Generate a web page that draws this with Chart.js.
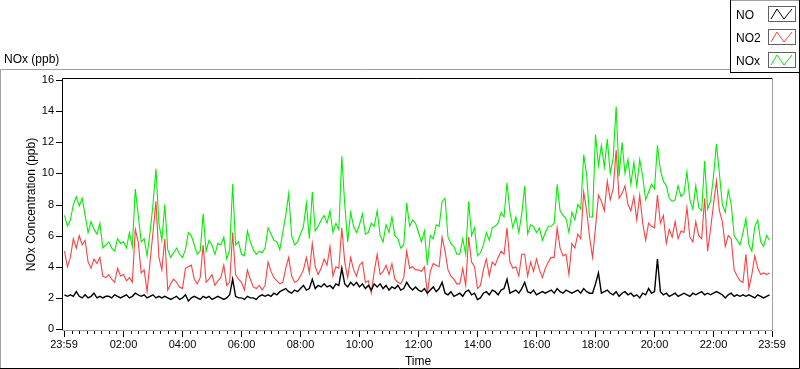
<!DOCTYPE html>
<html><head><meta charset="utf-8">
<script src="https://cdn.jsdelivr.net/npm/chart.js@4"></script>
<style>
html,body{margin:0;padding:0;background:#fff;overflow:hidden;}
#wrap{position:relative;width:800px;height:369px;font-family:"Liberation Sans",Arial,sans-serif;}
canvas{position:absolute;left:0;top:0;}
#title{position:absolute;left:4px;top:52px;font-size:12px;line-height:14px;color:#000;white-space:nowrap;}
#legend{position:absolute;left:730px;top:0;}
</style></head>
<body><div id="wrap"><canvas id="c" width="800" height="369"></canvas>
<div id="title">NOx (ppb)</div>
<svg id="legend" width="70" height="73" xmlns="http://www.w3.org/2000/svg"></svg>
</div>
<script>
// ---- data (one sample every 6 minutes) ----
const seriesNames = ['NO', 'NO2', 'NOx'];
const sampleStepMinutes = 6;
const NO = [
2.2,2.1,2.2,2.1,2.4,2.1,2.0,2.2,2.0,2.1,2.3,2.0,2.1,2.0,2.1,2.1,2.0,2.2,2.1,2.0,2.1,2.2,2.0,2.1,2.3,2.2,2.1,2.2,2.0,2.1,2.2,2.0,2.1,2.0,2.1,2.0,1.9,2.0,2.1,1.9,2.0,2.2,1.8,2.0,2.1,2.0,1.9,2.1,2.0,2.1,1.9,2.0,2.1,2.0,1.9,2.0,2.2,3.2,2.1,2.0,
2.0,1.9,2.1,2.0,2.0,1.9,2.1,2.2,2.1,2.2,2.1,2.3,2.2,2.4,2.5,2.6,2.4,2.3,2.5,2.4,2.6,2.8,2.5,2.6,3.2,2.6,2.8,2.7,2.9,2.7,2.8,2.6,2.9,2.8,3.9,2.9,2.7,3.0,2.8,3.0,2.7,2.9,2.6,2.8,2.5,2.9,2.7,2.9,2.6,2.8,2.5,2.7,2.6,2.8,2.5,2.6,3.0,2.7,2.5,2.7,
2.5,2.4,2.6,2.3,2.5,2.7,2.4,2.6,3.0,2.3,2.2,2.4,2.1,2.2,2.3,2.1,2.4,2.5,2.2,2.3,1.9,2.0,2.3,2.4,2.2,2.5,2.4,2.2,2.5,2.6,3.2,2.3,2.4,2.5,2.3,2.6,3.0,2.4,2.3,2.5,2.2,2.3,2.4,2.3,2.4,2.5,2.3,2.6,2.4,2.3,2.5,2.4,2.3,2.4,2.5,2.3,2.6,2.4,2.3,
2.3,2.9,3.6,2.3,2.4,2.5,2.3,2.2,2.4,2.1,2.3,2.4,2.2,2.3,2.1,2.2,2.0,2.3,2.2,2.6,2.3,2.4,4.5,2.4,2.2,2.3,2.1,2.2,2.3,2.1,2.2,2.3,2.2,2.1,2.3,2.2,2.3,2.4,2.2,2.3,2.2,2.3,2.4,2.3,2.2,2.0,2.2,2.3,2.1,2.2,2.1,2.2,2.1,2.2,2.1,2.0,2.2,2.1,2.0,2.1,2.2
];
const NO2 = [
5.0,4.0,4.6,5.8,5.2,6.0,5.4,5.7,4.3,3.9,4.5,4.2,4.6,3.4,3.3,3.5,3.2,3.0,3.9,3.4,3.5,3.1,3.3,3.0,6.4,5.6,3.6,3.8,2.4,4.3,6.2,8.2,4.6,3.8,5.8,2.5,2.9,3.2,3.0,2.7,2.6,3.9,4.0,4.1,3.2,2.9,3.3,5.4,3.0,3.2,3.5,2.8,3.1,3.3,4.1,2.8,3.0,6.2,3.5,3.2,
3.0,2.5,3.8,3.2,2.7,2.6,2.8,2.5,2.8,4.3,3.7,3.3,3.1,2.9,3.0,3.9,4.6,3.4,3.0,3.1,3.4,3.8,4.6,3.6,5.5,4.0,3.5,3.9,4.5,4.1,5.3,3.4,4.0,3.9,6.5,4.3,3.3,4.6,3.8,3.4,4.1,4.3,3.0,3.1,2.3,3.7,4.8,3.5,3.7,4.1,3.5,4.2,3.2,3.0,2.9,3.3,5.0,3.9,4.0,3.8,
3.8,3.7,4.0,2.3,3.7,4.2,4.1,4.0,5.9,5.0,3.8,3.4,3.2,2.9,2.9,3.9,2.8,5.9,4.3,4.0,2.6,2.8,3.8,4.5,3.4,4.3,4.1,4.6,5.0,4.8,6.5,4.3,3.9,4.0,3.4,4.8,4.8,3.4,4.3,3.7,4.5,3.8,3.3,3.9,4.3,4.6,4.6,6.5,5.2,4.7,4.8,3.5,5.5,5.2,6.1,5.8,8.8,7.6,5.9,
4.6,6.5,8.6,8.2,7.6,9.5,8.3,9.0,11.5,8.4,8.7,9.2,8.0,7.6,8.5,7.0,8.6,6.8,5.7,6.8,6.6,6.5,8.6,6.8,7.3,5.5,6.4,5.9,6.9,5.8,6.3,6.2,7.8,5.9,5.6,6.9,6.0,5.8,8.4,5.0,6.4,8.0,9.5,7.6,6.9,5.3,6.0,5.8,3.8,3.4,3.1,3.0,4.8,2.6,3.5,4.7,3.9,3.5,3.6,3.5,3.6
];
const NOx = [
7.3,6.6,7.0,8.0,8.5,7.9,8.4,7.3,6.2,6.9,6.4,6.1,6.8,5.2,5.4,5.6,5.2,5.0,5.8,5.5,5.6,5.2,6.2,5.3,9.0,7.3,5.6,5.8,4.7,6.2,8.0,10.3,6.8,5.7,8.0,5.1,4.6,4.9,5.2,4.8,4.6,5.1,6.2,6.0,5.4,4.8,5.0,7.4,5.0,5.7,5.4,4.8,5.5,5.4,5.9,4.5,5.1,9.3,5.4,5.6,
4.8,4.7,6.3,5.6,5.1,4.8,5.0,4.9,5.2,6.5,6.1,5.7,5.6,5.1,6.2,7.3,8.7,6.0,5.4,5.6,6.1,6.6,8.1,5.8,8.8,6.3,6.6,7.0,7.3,6.8,7.6,6.2,6.8,6.4,11.1,8.0,5.6,7.5,6.6,6.2,6.7,7.4,6.1,6.2,6.8,6.6,7.6,6.0,5.6,6.7,6.2,7.2,6.0,5.8,5.2,5.4,8.1,6.6,7.0,6.8,
6.2,5.6,6.3,4.1,6.0,5.8,6.7,6.6,8.2,8.4,5.9,5.5,5.3,4.8,4.8,5.8,4.8,8.2,6.0,6.5,4.7,4.9,5.4,6.2,5.7,6.5,6.6,6.8,7.5,7.2,9.4,7.5,6.5,7.2,6.2,7.4,9.2,6.1,6.7,6.6,6.2,6.5,5.7,6.2,6.6,6.6,6.8,9.3,7.6,7.3,7.1,6.2,7.5,7.0,8.0,7.7,11.2,9.9,7.2,
7.2,12.5,10.5,11.8,10.4,12.2,10.0,11.0,14.3,9.8,12.0,10.0,10.9,9.3,10.7,9.2,10.9,9.8,8.3,8.8,9.3,9.0,11.8,10.2,9.5,9.2,8.4,8.2,8.3,9.2,8.5,8.7,10.1,8.3,7.7,9.2,7.8,7.6,10.8,7.7,8.2,9.8,11.9,10.0,8.0,7.5,8.9,8.0,6.0,5.7,5.4,6.2,7.1,5.4,5.0,6.6,7.0,5.6,5.3,6.0,5.7
];
const seriesColors = ['#000000', '#ff4040', '#00f000'];
const xTickMinutes = [-1, 120, 240, 360, 480, 600, 720, 840, 960, 1080, 1200, 1320, 1439];
const xTickLabels = ['23:59', '02:00', '04:00', '06:00', '08:00', '10:00', '12:00', '14:00', '16:00', '18:00', '20:00', '22:00', '23:59'];
const minorTickStepMinutes = 15;
const yTitle = 'NOx Concentration (ppb)';
const xTitle = 'Time';

const FONT = "'Liberation Sans', Arial, sans-serif";

// ---- legend (svg, real text) ----
(function buildLegend(){
  const svg = document.getElementById('legend');
  let s = '';
  s += '<line x1="0" y1="0.5" x2="70" y2="0.5" stroke="#a0a0a0"/>';
  s += '<line x1="0.5" y1="0" x2="0.5" y2="73" stroke="#000"/>';
  s += '<line x1="0" y1="72.5" x2="70" y2="72.5" stroke="#000"/>';
  s += '<line x1="69.5" y1="0" x2="69.5" y2="73" stroke="#000"/>';
  seriesNames.forEach((n, i) => {
    const cy = 14 + 23 * i;
    s += `<text x="6" y="${cy + 4.5}" font-family="${FONT.replace(/'/g,'')}" font-size="12" fill="#000">${n}</text>`;
    s += `<rect x="38.5" y="${cy - 7.5}" width="27" height="15" fill="#fff" stroke="#606060"/>`;
    s += `<polyline points="41,${cy+5} 47,${cy-5} 54,${cy+5} 62,${cy-5}" fill="none" stroke="${seriesColors[i]}" stroke-width="1"/>`;
  });
  svg.innerHTML = s;
})();

// ---- frame / ticks plugin ----
const framePlugin = {
  id: 'frame',
  beforeDraw(chart) {
    const ctx = chart.ctx;
    ctx.save();
    ctx.fillStyle = '#fff';
    ctx.fillRect(0, 0, chart.width, chart.height);
    ctx.lineWidth = 1;
    ctx.strokeStyle = '#a0a0a0';
    ctx.beginPath();
    ctx.moveTo(0.5, 368); ctx.lineTo(0.5, 69.5); ctx.lineTo(730, 69.5);
    ctx.stroke();
    ctx.strokeStyle = '#000';
    ctx.beginPath();
    ctx.moveTo(0, 368.5); ctx.lineTo(799.5, 368.5); ctx.lineTo(799.5, 70);
    ctx.stroke();
    ctx.restore();
  },
  beforeDatasetsDraw(chart) {
    const ctx = chart.ctx, a = chart.chartArea;
    ctx.save();
    ctx.lineWidth = 1;
    ctx.strokeStyle = '#000';
    ctx.beginPath();
    ctx.moveTo(a.left - 1.5, a.bottom + 1); ctx.lineTo(a.left - 1.5, a.top - 1.5); ctx.lineTo(a.right, a.top - 1.5);
    ctx.stroke();
    ctx.strokeStyle = '#a0a0a0';
    ctx.beginPath();
    ctx.moveTo(a.right + 0.5, a.top - 2); ctx.lineTo(a.right + 0.5, a.bottom + 1.5); ctx.lineTo(a.left - 2, a.bottom + 1.5);
    ctx.stroke();
    ctx.restore();
  },
  afterDraw(chart) {
    const ctx = chart.ctx, a = chart.chartArea;
    const xs = chart.scales.x, ys = chart.scales.y;
    ctx.save();
    ctx.lineWidth = 1;
    ctx.strokeStyle = '#000';
    ctx.beginPath();
    xs.ticks.forEach(t => {
      const px = Math.round(xs.getPixelForValue(t.value)) + 0.5;
      const major = xTickMinutes.includes(t.value);
      ctx.moveTo(px, a.bottom + 2);
      ctx.lineTo(px, a.bottom + (major ? 8 : 5));
    });
    ys.ticks.forEach(t => {
      const py = Math.round(ys.getPixelForValue(t.value)) + 0.5;
      ctx.moveTo(a.left - 8, py);
      ctx.lineTo(a.left - 2, py);
    });
    ctx.stroke();
    ctx.restore();
  }
};

const toPoints = arr => arr.map((v, i) => ({ x: i * sampleStepMinutes, y: v }));

new Chart(document.getElementById('c'), {
  type: 'line',
  data: {
    datasets: [
      { label: seriesNames[0], data: toPoints(NO), borderColor: seriesColors[0], borderWidth: 1.4, pointRadius: 0, tension: 0, fill: false },
      { label: seriesNames[1], data: toPoints(NO2), borderColor: seriesColors[1], borderWidth: 1.1, pointRadius: 0, tension: 0, fill: false },
      { label: seriesNames[2], data: toPoints(NOx), borderColor: seriesColors[2], borderWidth: 1.1, pointRadius: 0, tension: 0, fill: false }
    ]
  },
  options: {
    responsive: false,
    animation: false,
    devicePixelRatio: 1,
    layout: { padding: { left: 20, top: 80, right: 28, bottom: 0 } },
    plugins: { legend: { display: false }, tooltip: { enabled: false } },
    scales: {
      x: {
        type: 'linear', min: -1, max: 1439,
        afterBuildTicks(s) {
          const vals = new Set(xTickMinutes);
          for (let m = 0; m < 1439; m += minorTickStepMinutes) vals.add(m);
          s.ticks = [...vals].sort((p, q) => p - q).map(v => ({ value: v }));
        },
        afterFit(s) { s.height = 40; s.paddingLeft = 0; s.paddingRight = 0; },
        grid: { display: false }, border: { display: false },
        ticks: {
          autoSkip: false, maxRotation: 0, minRotation: 0, padding: 1, color: '#000',
          font: { family: FONT, size: 11 },
          callback(v) { const k = xTickMinutes.indexOf(v); return k >= 0 ? xTickLabels[k] : ''; }
        },
        title: { display: true, text: xTitle, color: '#000', font: { family: FONT, size: 12 }, padding: { top: 0, bottom: 0 } }
      },
      y: {
        min: 0, max: 16,
        afterFit(s) { s.width = 44; s.paddingTop = 0; s.paddingBottom = 0; },
        grid: { display: false }, border: { display: false },
        ticks: { stepSize: 2, padding: 2, color: '#000', font: { family: FONT, size: 11 } },
        title: { display: true, text: yTitle, color: '#000', font: { family: FONT, size: 12 }, padding: { top: 4, bottom: 0 } }
      }
    }
  },
  plugins: [framePlugin]
});
</script>
</body></html>
